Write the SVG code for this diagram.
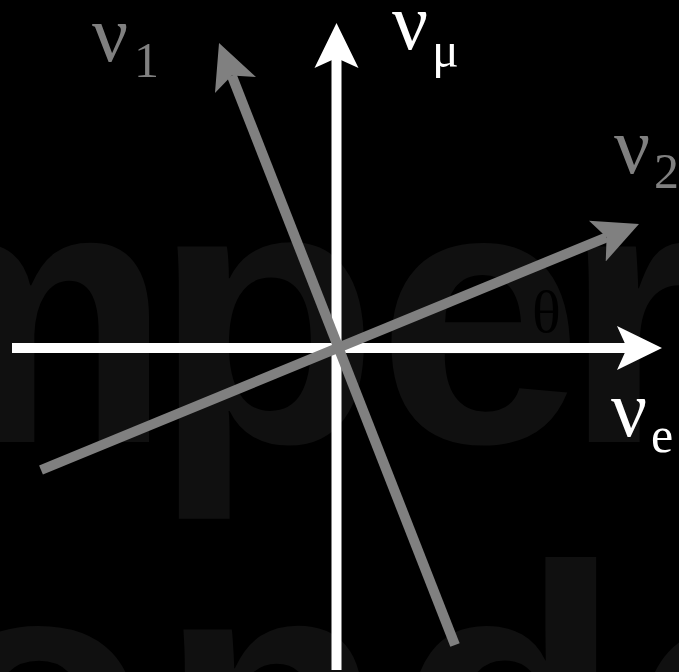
<svg xmlns="http://www.w3.org/2000/svg" width="679" height="672" viewBox="0 0 679 672">
  <style>
    .wm { font-family: "Liberation Sans", Arial, sans-serif; font-weight: bold; font-size: 370px; fill: #101010; }
    .lbl { font-family: "Liberation Serif", "Times New Roman", serif; }
    .big { font-size: 80px; }
    .sub { font-size: 50px; }
    .gray { fill: #808080; }
    .white { fill: #ffffff; }
    .axis { stroke: #ffffff; stroke-width: 10; fill: none; }
    .state { stroke: #808080; stroke-width: 10; fill: none; }
  </style>
  <defs>
    <marker id="head-white" markerUnits="userSpaceOnUse" markerWidth="46" markerHeight="46" viewBox="0 -23 46 46" refX="10" refY="0" orient="auto">
      <path d="M0,-22 L45,0 L0,22 L10,0 Z" fill="#ffffff"/>
    </marker>
    <marker id="head-gray" markerUnits="userSpaceOnUse" markerWidth="46" markerHeight="46" viewBox="0 -23 46 46" refX="10" refY="0" orient="auto">
      <path d="M0,-22 L45,0 L0,22 L10,0 Z" fill="#808080"/>
    </marker>
  </defs>
  <rect x="0" y="0" width="679" height="672" fill="#000000"/>
  <g id="watermark">
    <text class="wm" x="-157 153 377 563" y="442">mper</text>
    <text class="wm" x="-75 159 396 630" y="825">onde</text>
  </g>
  <text id="theta" class="lbl" x="532" y="332" font-size="60" fill="#000000">θ</text>
  <g id="connectors">
    <line id="axis-e" class="axis" x1="12" y1="348" x2="627" y2="348" marker-end="url(#head-white)"/>
    <line id="axis-mu" class="axis" x1="336.5" y1="670" x2="336.5" y2="58" marker-end="url(#head-white)"/>
    <line id="vec-1" class="state" x1="455" y1="645" x2="231.8" y2="75.6" marker-end="url(#head-gray)"/>
    <line id="vec-2" class="state" x1="41" y1="470" x2="606.6" y2="237.3" marker-end="url(#head-gray)"/>
  </g>
  <g id="label-nu1">
    <text class="lbl gray"><tspan class="big" x="92" y="61">ν</tspan><tspan class="sub" x="134" y="77">1</tspan></text>
  </g>
  <g id="label-numu">
    <text class="lbl white"><tspan class="big" x="392" y="49">ν</tspan><tspan class="sub" x="432" y="67">μ</tspan></text>
  </g>
  <g id="label-nu2">
    <text class="lbl gray"><tspan class="big" x="614" y="173">ν</tspan><tspan class="sub" x="654" y="188">2</tspan></text>
  </g>
  <g id="label-nue">
    <text class="lbl white"><tspan class="big" x="611" y="436">ν</tspan><tspan class="sub" x="651" y="452">e</tspan></text>
  </g>
</svg>
